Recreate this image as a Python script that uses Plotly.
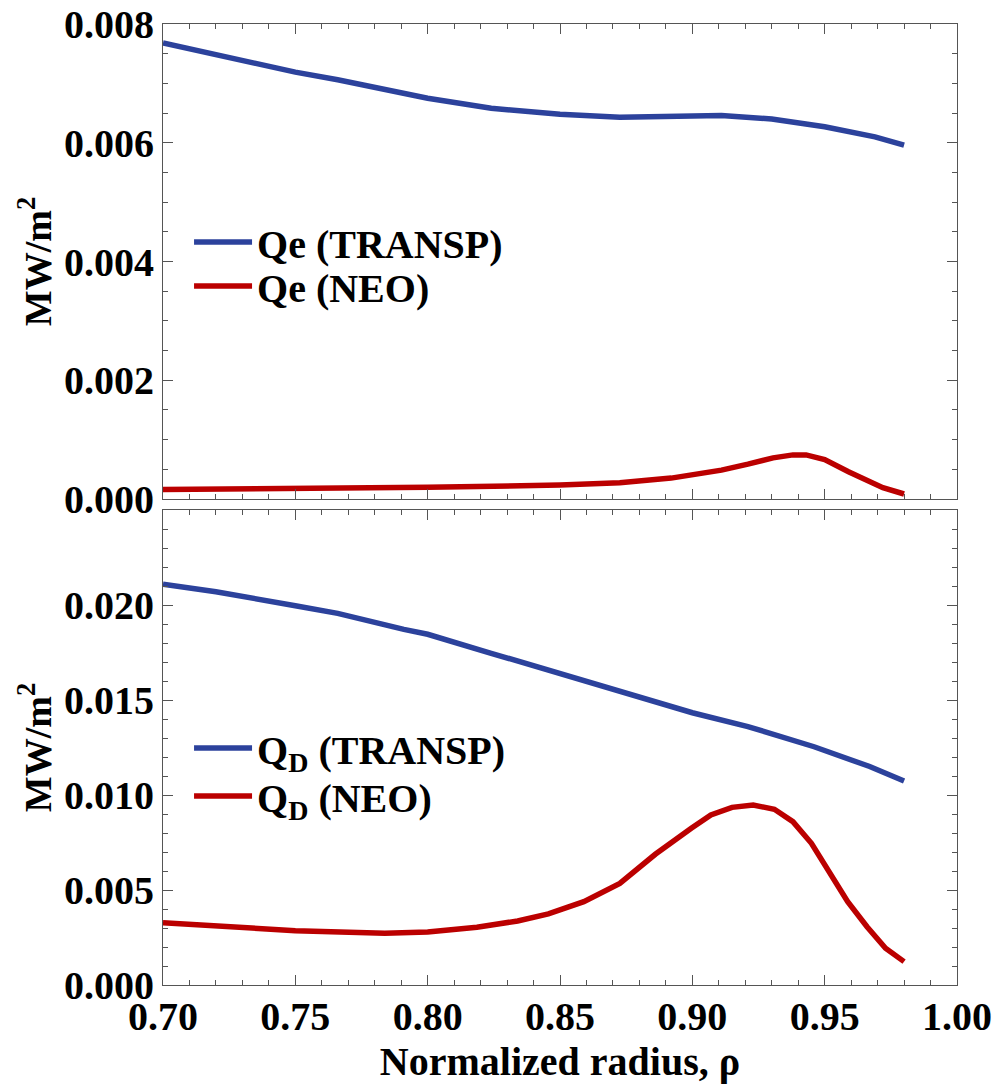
import plotly.graph_objects as go
from plotly.subplots import make_subplots

# Top panel: electron heat flux
rho_qe_transp = [0.70, 0.72, 0.75, 0.766, 0.7915, 0.80, 0.824, 0.85, 0.8726, 0.90, 0.911, 0.93, 0.95, 0.969, 0.98]
qe_transp = [0.00768, 0.00748, 0.00719, 0.00706, 0.00682, 0.00675, 0.00658, 0.00648, 0.00643, 0.00644, 0.00646, 0.00640, 0.00627, 0.00610, 0.00596]

rho_qe_neo = [0.70, 0.75, 0.80, 0.85, 0.8726, 0.892, 0.90, 0.911, 0.921, 0.9305, 0.938, 0.943, 0.95, 0.959, 0.972, 0.98]
qe_neo = [0.000162, 0.000173, 0.000196, 0.000235, 0.000274, 0.000352, 0.000402, 0.000486, 0.000587, 0.000693, 0.000743, 0.000743, 0.000665, 0.000458, 0.000190, 0.000084]

# Bottom panel: deuterium heat flux
rho_qd_transp = [0.70, 0.72, 0.75, 0.766, 0.791, 0.80, 0.824, 0.85, 0.8726, 0.90, 0.921, 0.946, 0.967, 0.98]
qd_transp = [0.0211, 0.0207, 0.01996, 0.01956, 0.01872, 0.01846, 0.01746, 0.0164, 0.01544, 0.01433, 0.0136, 0.01254, 0.0115, 0.01074]

rho_qd_neo = [0.70, 0.72, 0.75, 0.7838, 0.80, 0.8186, 0.834, 0.8456, 0.859, 0.8726, 0.886, 0.8996, 0.907, 0.915,
              0.923, 0.931, 0.938, 0.945, 0.95, 0.9587, 0.966, 0.973, 0.98]
qd_neo = [0.00328, 0.0031, 0.00286, 0.00272, 0.00279, 0.00304, 0.00337, 0.00374, 0.00439, 0.00535, 0.00688, 0.00825,
          0.00895, 0.00935, 0.00947, 0.00925, 0.0086, 0.00746, 0.00632, 0.00439, 0.00307, 0.00193, 0.00123]

x_ticks = [0.70, 0.75, 0.80, 0.85, 0.90, 0.95, 1.00]
y_ticks_top = [0.000, 0.002, 0.004, 0.006, 0.008]
y_ticks_bot = [0.000, 0.005, 0.010, 0.015, 0.020]

BLUE = "#2C429C"
RED = "#BB0000"
FONT = dict(family="Liberation Serif", weight="bold", color="black")
LW = 5.5

fig = make_subplots(rows=2, cols=1, shared_xaxes=True, vertical_spacing=11 / 961)

fig.add_trace(go.Scatter(x=rho_qe_transp, y=qe_transp, mode="lines", name="Qe (TRANSP)",
                         line=dict(color=BLUE, width=LW), legend="legend", showlegend=True), row=1, col=1)
fig.add_trace(go.Scatter(x=rho_qe_neo, y=qe_neo, mode="lines", name="Qe (NEO)",
                         line=dict(color=RED, width=LW), legend="legend2", showlegend=True), row=1, col=1)
fig.add_trace(go.Scatter(x=rho_qd_transp, y=qd_transp, mode="lines", name="Q<sub>D</sub> (TRANSP)",
                         line=dict(color=BLUE, width=LW), legend="legend3", showlegend=True), row=2, col=1)
fig.add_trace(go.Scatter(x=rho_qd_neo, y=qd_neo, mode="lines", name="Q<sub>D</sub> (NEO)",
                         line=dict(color=RED, width=LW), legend="legend4", showlegend=True), row=2, col=1)

axis_common = dict(showline=True, linecolor="#555555", linewidth=1, mirror="allticks",
                   ticks="inside", tickcolor="#555555", ticklen=10, tickwidth=1,
                   showgrid=False, zeroline=False, automargin=False,
                   ticklabeloverflow="allow",
                   tickfont=dict(size=40, **FONT))
minor_x = dict(dtick=0.01, ticklen=5, tickcolor="#555555", ticks="inside", showgrid=False)

fig.update_xaxes(range=[0.70, 1.00], tickvals=x_ticks, tickformat=".2f",
                 minor=minor_x, **axis_common)
fig.update_xaxes(showticklabels=False, row=1, col=1)
fig.update_xaxes(title=dict(text="Normalized radius, ρ", font=dict(size=40, **FONT), standoff=4),
                 ticklabelstandoff=-4, row=2, col=1)

fig.update_yaxes(range=[0, 0.008], tickvals=y_ticks_top, tickformat=".3f",
                 minor=dict(dtick=0.0005, ticklen=5, tickcolor="#555555", ticks="inside", showgrid=False),
                 title=dict(text="MW/m<sup>2</sup>", font=dict(size=38, **FONT), standoff=0),
                 row=1, col=1, **axis_common)
fig.update_yaxes(range=[0, 0.025], tickvals=y_ticks_bot, tickformat=".3f",
                 minor=dict(dtick=0.001, ticklen=5, tickcolor="#555555", ticks="inside", showgrid=False),
                 title=dict(text="MW/m<sup>2</sup>", font=dict(size=38, **FONT), standoff=0),
                 row=2, col=1, **axis_common)


def leg(y):
    return dict(x=0.0328, y=y, xanchor="left", yanchor="middle", bgcolor="rgba(0,0,0,0)",
                font=dict(size=40, **FONT), itemwidth=58)


# The page adds an 8 px body margin, so the figure is sized to fit the window.
fig.update_layout(
    width=994, height=1078,
    margin=dict(l=155, r=45, t=16, b=101, autoexpand=False),
    paper_bgcolor="white", plot_bgcolor="white",
    font=FONT,
    showlegend=True,
    legend=leg(0.7732),
    legend2=leg(0.7274),
    legend3=leg(0.2466),
    legend4=leg(0.1967),
)

fig.write_html("out.html")
